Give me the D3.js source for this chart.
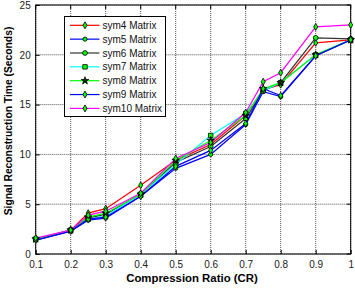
<!DOCTYPE html>
<html><head><meta charset="utf-8">
<script src="https://cdn.jsdelivr.net/npm/d3@7"></script>
<style>body{margin:0;background:#fff}svg{display:block}</style>
</head><body>
<svg id="c" width="355" height="289"></svg>
<script>
const crValues = [0.1, 0.2, 0.25, 0.3, 0.4, 0.5, 0.6, 0.7, 0.75, 0.8, 0.9, 1.0];
const seriesNames = ["sym4 Matrix","sym5 Matrix","sym6 Matrix","sym7 Matrix","sym8 Matrix","sym9 Matrix","sym10 Matrix"];
const sym4  = [1.5, 2.4, 4.1, 4.55, 6.9, 9.4, 11.0, 13.9, 16.5, 17.0, 21.2, 21.5];
const sym5  = [1.4, 2.3, 3.4, 3.6, 5.8, 8.6, 10.0, 13.0, 16.3, 15.8, 19.9, 21.5];
const sym6  = [1.5, 2.4, 3.6, 4.0, 6.0, 9.2, 10.8, 13.6, 16.4, 17.2, 21.7, 21.6];
const sym7  = [1.5, 2.4, 3.5, 3.8, 6.0, 9.0, 11.9, 14.1, 16.4, 17.2, 20.0, 21.5];
const sym8  = [1.5, 2.4, 3.7, 4.1, 6.0, 9.4, 11.4, 13.9, 16.6, 17.2, 20.0, 21.5];
const sym9  = [1.4, 2.3, 3.5, 3.7, 5.8, 8.8, 10.4, 13.1, 16.6, 15.9, 19.9, 21.5];
const sym10 = [1.6, 2.4, 3.9, 4.3, 6.1, 9.6, 11.2, 14.2, 17.3, 18.2, 22.8, 23.0];
const xTicks = [0.1,0.2,0.3,0.4,0.5,0.6,0.7,0.8,0.9,1];
const yTicks = [0,5,10,15,20,25];

const allSeries = [sym4, sym5, sym6, sym7, sym8, sym9, sym10];
const colors = ["#ff0000","#0000ff","#333333","#00ffff","#00ff00","#0000ee","#ff00ff"];
const shapes = [d3.symbolDiamond, d3.symbolCircle, d3.symbolCircle, d3.symbolSquare, d3.symbolStar, d3.symbolDiamond, d3.symbolDiamond];
const sizes = [14, 14, 18, 20, 18, 14, 14];

const svg = d3.select("#c");
const L = 35.7, R = 350.7, T = 5, B = 254;
const x = d3.scaleLinear().domain([0.1, 1]).range([L, R]);
const y = d3.scaleLinear().domain([0, 25]).range([B, T]);
const font = "Liberation Sans, Arial, sans-serif";

// grid
const g = svg.append("g");
g.selectAll(".vg").data(xTicks).join("line")
  .attr("x1", d => x(d)).attr("x2", d => x(d)).attr("y1", T).attr("y2", B)
  .attr("stroke", "#555").attr("stroke-width", 1).attr("stroke-dasharray", "1,1");
g.selectAll(".hg").data(yTicks).join("line")
  .attr("x1", L).attr("x2", R).attr("y1", d => y(d)).attr("y2", d => y(d))
  .attr("stroke", "#555").attr("stroke-width", 1).attr("stroke-dasharray", "1,1");

// axes
const xAxis = d3.axisBottom(x).tickValues(xTicks).tickSize(-4).tickPadding(7).tickFormat(d3.format("~g"));
const yAxis = d3.axisLeft(y).tickValues(yTicks).tickSize(-4).tickPadding(5);
const ax = svg.append("g").attr("transform", `translate(0,${B})`).call(xAxis);
const ay = svg.append("g").attr("transform", `translate(${L},0)`).call(yAxis);
[ax, ay].forEach(a => {
  a.select(".domain").remove();
  a.selectAll("line").attr("stroke", "#000");
  a.selectAll("text").attr("font-family", font).attr("font-size", 10).attr("fill", "#222");
});
// top/right ticks
svg.append("g").selectAll("line").data(xTicks).join("line")
  .attr("x1", d => x(d)).attr("x2", d => x(d)).attr("y1", T).attr("y2", T + 4).attr("stroke", "#000");
svg.append("g").selectAll("line").data(yTicks).join("line")
  .attr("x1", R).attr("x2", R - 4).attr("y1", d => y(d)).attr("y2", d => y(d)).attr("stroke", "#000");
svg.append("rect").attr("x", L).attr("y", T).attr("width", R - L).attr("height", B - T)
  .attr("fill", "none").attr("stroke", "#000").attr("stroke-width", 1);

// lines
const line = d3.line().x((d, i) => x(crValues[i])).y(d => y(d));
allSeries.forEach((s, k) => {
  svg.append("path").datum(s).attr("d", line).attr("fill", "none")
    .attr("stroke", colors[k]).attr("stroke-width", 1.2);
});
allSeries.forEach((s, k) => {
  svg.append("g").selectAll("path").data(s).join("path")
    .attr("transform", (d, i) => `translate(${x(crValues[i])},${y(d)})`)
    .attr("d", d3.symbol().type(shapes[k]).size(sizes[k]))
    .attr("fill", k === 4 ? "#003300" : "#00ff00").attr("stroke", "#000").attr("stroke-width", 0.8);
});

// legend
const lg = svg.append("g");
lg.append("rect").attr("x", 64.5).attr("y", 16.5).attr("width", 101).attr("height", 100)
  .attr("fill", "#fff").attr("stroke", "#000").attr("stroke-width", 1);
seriesNames.forEach((n, k) => {
  const yy = 25.3 + k * 13.85;
  lg.append("line").attr("x1", 70).attr("x2", 99.5).attr("y1", yy).attr("y2", yy)
    .attr("stroke", colors[k]).attr("stroke-width", 1.2);
  lg.append("path").attr("transform", `translate(85,${yy})`)
    .attr("d", d3.symbol().type(shapes[k]).size(sizes[k]))
    .attr("fill", k === 4 ? "#003300" : "#00ff00").attr("stroke", "#000").attr("stroke-width", 0.8);
  lg.append("text").attr("x", 102.5).attr("y", yy + 3.5).text(n)
    .attr("font-family", font).attr("font-size", 10).attr("fill", "#111");
});

// titles
svg.append("text").attr("x", 192).attr("y", 282).attr("text-anchor", "middle")
  .attr("font-family", font).attr("font-size", 11.4).attr("font-weight", "bold").text("Compression Ratio (CR)");
svg.append("text").attr("transform", "translate(12,121) rotate(-90)").attr("text-anchor", "middle")
  .attr("font-family", font).attr("font-size", 10.3).attr("font-weight", "bold").text("Signal Reconstruction Time (Seconds)");
</script>
</body></html>
